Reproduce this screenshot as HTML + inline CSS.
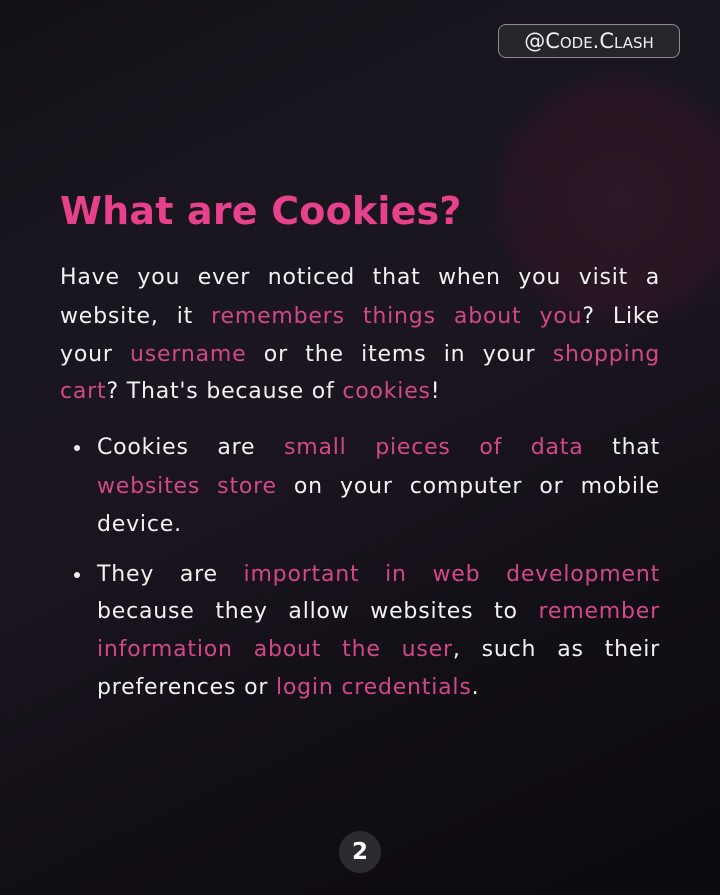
<!DOCTYPE html>
<html><head><meta charset="utf-8"><style>
html,body{margin:0;padding:0}
body{width:720px;height:895px;position:relative;overflow:hidden;font-family:"DejaVu Sans","Liberation Sans",sans-serif;
background:linear-gradient(155deg,#121016 0%,#1a1620 25%,#1b1520 45%,#130f16 70%,#0c0a0f 100%);}
.glow{position:absolute;left:490px;top:70px;width:260px;height:260px;border-radius:50%;background:radial-gradient(circle at 50% 50%,#2c1826 0%,#261522 60%,rgba(30,18,28,0) 72%);}
.badge{position:absolute;left:498px;top:24px;width:180px;height:32px;border:1.5px solid #8a8a90;border-radius:8px;background:#25252a;color:#f0f0f0;font-family:"DejaVu Sans",sans-serif;font-variant:small-caps;font-size:21px;line-height:32px;text-align:center}
.title{position:absolute;left:60px;top:189px;font-size:38px;font-weight:bold;color:#e6418a;letter-spacing:0.2px}
.l{position:absolute;height:30px;line-height:30px;font-size:22px;letter-spacing:0.8px;color:#f2f2f2;text-align:justify;text-align-last:justify}
.p{color:#d24886}
.last{text-align-last:left}
.dot{position:absolute;left:74px;width:6px;height:6px;border-radius:50%;background:#eee}
.num{position:absolute;left:339px;top:831px;width:42px;height:42px;border-radius:50%;background:#2c2c30;color:#fff;font-weight:bold;font-size:23px;line-height:42px;text-align:center}
</style></head><body>
<div class="glow"></div>
<div class="badge">@Code.Clash</div>
<div class="title">What are Cookies?</div>
<div>
<div class="l" style="left:60px;width:600px;top:263px">Have you ever noticed that when you visit a</div>
<div class="l" style="left:60px;width:600px;top:302px">website, it <span class="p">remembers things about you</span>? Like</div>
<div class="l" style="left:60px;width:600px;top:340px">your <span class="p">username</span> or the items in your <span class="p">shopping</span></div>
<div class="l last" style="left:60px;width:600px;top:377px"><span class="p">cart</span>? That's because of <span class="p">cookies</span>!</div>
</div>
<div>
<div class="dot" style="top:445px"></div>
<div class="l" style="left:97px;width:563px;top:433px">Cookies are <span class="p">small pieces of data</span> that</div>
<div class="l" style="left:97px;width:563px;top:472px"><span class="p">websites store</span> on your computer or mobile</div>
<div class="l last" style="left:97px;width:563px;top:510px">device.</div>
</div>
<div>
<div class="dot" style="top:572px"></div>
<div class="l" style="left:97px;width:563px;top:560px">They are <span class="p">important in web development</span></div>
<div class="l" style="left:97px;width:563px;top:597px">because they allow websites to <span class="p">remember</span></div>
<div class="l" style="left:97px;width:563px;top:635px"><span class="p">information about the user</span>, such as their</div>
<div class="l last" style="left:97px;width:563px;top:673px">preferences or <span class="p">login credentials</span>.</div>
</div>
<div class="num">2</div>
</body></html>
